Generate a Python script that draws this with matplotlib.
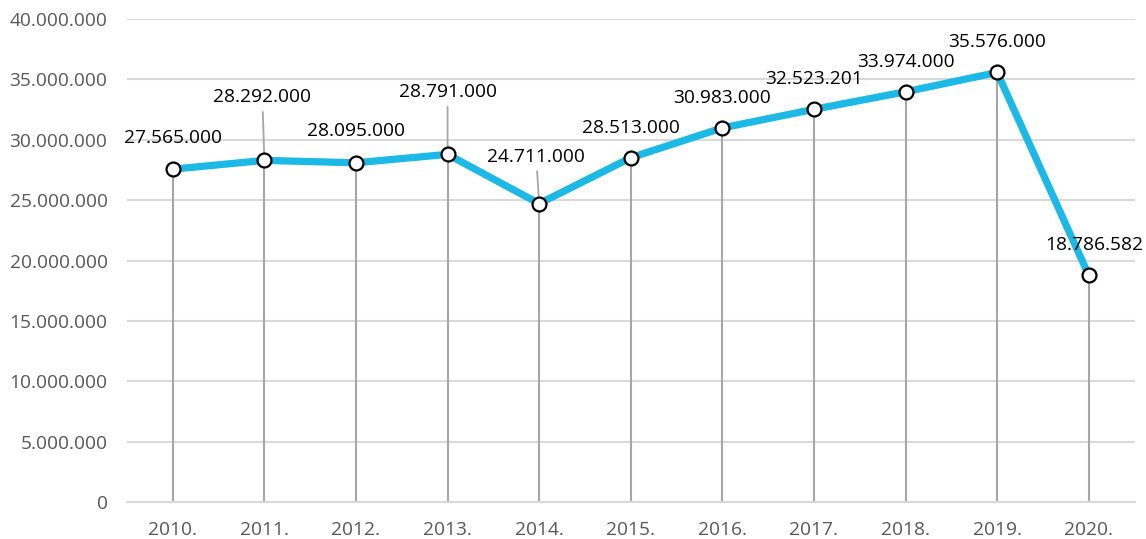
import numpy as np
import matplotlib.pyplot as plt
from matplotlib.ticker import FuncFormatter

plt.rcParams['font.family'] = ['Open Sans', 'DejaVu Sans']

years = ['2010.', '2011.', '2012.', '2013.', '2014.', '2015.',
         '2016.', '2017.', '2018.', '2019.', '2020.']
values = [27565000, 28292000, 28095000, 28791000, 24711000, 28513000,
          30983000, 32523201, 33974000, 35576000, 18786582]
value_labels = ['27.565.000', '28.292.000', '28.095.000', '28.791.000', '24.711.000',
                '28.513.000', '30.983.000', '32.523.201', '33.974.000', '35.576.000',
                '18.786.582']
# label offsets in pixels (dx, dy) and whether a leader line is drawn
label_offsets = [(0, 31), (-2, 63), (0, 32), (0, 62), (-3, 47), (0, 30),
                 (0, 30), (0, 30), (0, 30), (0, 30), (5, 30)]
leaders = [False, True, False, True, True, False, False, False, False, False, False]

fig = plt.figure(figsize=(11.46, 5.39), dpi=100)
ax = fig.add_axes([0.1108, 0.0686, 0.8792, 0.8961])

x = np.arange(len(years))

ax.vlines(x, 0, values, color='#A6A6A6', linewidth=1.5, zorder=2)
ax.plot(x, values, color='#1CB8E6', linewidth=5.2, solid_capstyle='round',
        marker='o', markersize=10, markerfacecolor='white', markeredgecolor='black',
        markeredgewidth=1.6, zorder=4)

for xi, v, lab, off, lead in zip(x, values, value_labels, label_offsets, leaders):
    if lead:
        ax.annotate(lab, xy=(xi, v), xytext=off, textcoords='offset pixels',
                    ha='center', va='center', fontsize=13.8, color='black',
                    arrowprops=dict(arrowstyle='-', color='#A6A6A6', lw=1.3,
                                    shrinkA=2, shrinkB=0), zorder=3)
    else:
        ax.annotate(lab, xy=(xi, v), xytext=off, textcoords='offset pixels',
                    ha='center', va='center', fontsize=13.8, color='black', zorder=5)

ax.set_xlim(-0.5, len(years) - 0.5)
ax.set_ylim(0, 40000000)
ax.set_yticks(np.arange(0, 40000001, 5000000))
ax.yaxis.set_major_formatter(FuncFormatter(lambda v, p: f'{int(v):,}'.replace(',', '.')))
ax.set_xticks(x)
ax.set_xticklabels(years)

ax.grid(axis='y', color='#D9D9D9', linewidth=1.5, zorder=0)
ax.set_axisbelow(True)
for s in ['top', 'right', 'left']:
    ax.spines[s].set_visible(False)
ax.spines['bottom'].set_color('#D9D9D9')
ax.spines['bottom'].set_linewidth(1.5)
ax.tick_params(axis='both', length=0, labelsize=13.8, colors='#595959')
ax.tick_params(axis='x', pad=14)
ax.tick_params(axis='y', pad=14)

fig.savefig('out.png', dpi=100)
